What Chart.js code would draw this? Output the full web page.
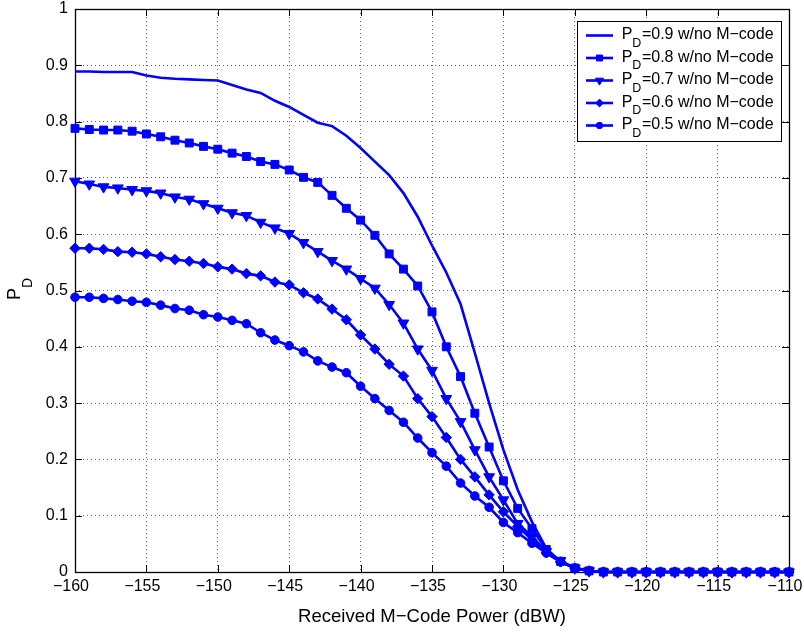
<!DOCTYPE html>
<html lang="en">
<head>
    <meta charset="UTF-8">
    <title>P_D vs Received M-Code Power</title>
    <script src="https://cdn.jsdelivr.net/npm/chart.js"></script>
    <style>
        body { margin: 0; background: #fff; }
        canvas { display: block; }
    </style>
</head>
<body>
    <canvas id="pdChart" width="804" height="632"></canvas>

    <script>
        // received M-code power, 1 dB steps
        const powerDbw = [];
        for (let p = -160; p <= -110; p++) powerDbw.push(p);

        const pd09 = [0.889, 0.889, 0.888, 0.888, 0.888, 0.882, 0.878, 0.876, 0.875, 0.874,
                      0.873, 0.865, 0.857, 0.851, 0.837, 0.826, 0.812, 0.798, 0.792, 0.775,
                      0.753, 0.729, 0.705, 0.673, 0.631, 0.580, 0.532, 0.476, 0.389, 0.300,
                      0.217, 0.146, 0.089, 0.042, 0.018, 0.007, 0.002, 0, 0, 0,
                      0, 0, 0, 0, 0, 0, 0, 0, 0, 0, 0];
        const pd08 = [0.788, 0.786, 0.785, 0.785, 0.783, 0.778, 0.773, 0.767, 0.762, 0.756,
                      0.751, 0.744, 0.738, 0.729, 0.724, 0.714, 0.701, 0.692, 0.669, 0.646,
                      0.625, 0.598, 0.565, 0.538, 0.508, 0.462, 0.400, 0.347, 0.282, 0.222,
                      0.162, 0.113, 0.077, 0.040, 0.019, 0.007, 0.002, 0, 0, 0,
                      0, 0, 0, 0, 0, 0, 0, 0, 0, 0, 0];
        const pd07 = [0.694, 0.689, 0.684, 0.682, 0.679, 0.677, 0.673, 0.666, 0.662, 0.654,
                      0.646, 0.638, 0.633, 0.621, 0.611, 0.601, 0.585, 0.569, 0.553, 0.538,
                      0.521, 0.504, 0.475, 0.442, 0.396, 0.358, 0.308, 0.267, 0.217, 0.169,
                      0.128, 0.086, 0.063, 0.036, 0.020, 0.007, 0.002, 0, 0, 0,
                      0, 0, 0, 0, 0, 0, 0, 0, 0, 0, 0];
        const pd06 = [0.575, 0.575, 0.573, 0.569, 0.568, 0.565, 0.560, 0.555, 0.552, 0.548,
                      0.542, 0.538, 0.530, 0.526, 0.515, 0.510, 0.496, 0.485, 0.467, 0.448,
                      0.421, 0.396, 0.369, 0.348, 0.308, 0.276, 0.239, 0.200, 0.169, 0.137,
                      0.107, 0.081, 0.057, 0.034, 0.018, 0.007, 0.002, 0, 0, 0,
                      0, 0, 0, 0, 0, 0, 0, 0, 0, 0, 0];
        const pd05 = [0.488, 0.488, 0.486, 0.484, 0.481, 0.479, 0.474, 0.468, 0.465, 0.457,
                      0.453, 0.447, 0.441, 0.425, 0.412, 0.402, 0.391, 0.375, 0.364, 0.354,
                      0.330, 0.308, 0.287, 0.266, 0.238, 0.212, 0.188, 0.158, 0.135, 0.115,
                      0.088, 0.070, 0.051, 0.034, 0.018, 0.007, 0.002, 0, 0, 0,
                      0, 0, 0, 0, 0, 0, 0, 0, 0, 0, 0];

        const seriesNames = ['0.9', '0.8', '0.7', '0.6', '0.5'];

        const xTicks = [-160, -155, -150, -145, -140, -135, -130, -125, -120, -115, -110];
        const xTickLabels = ['\u2212160', '\u2212155', '\u2212150', '\u2212145', '\u2212140', '\u2212135',
                             '\u2212130', '\u2212125', '\u2212120', '\u2212115', '\u2212110'];
        const yTicks = [0, 0.1, 0.2, 0.3, 0.4, 0.5, 0.6, 0.7, 0.8, 0.9, 1];
        const yTickLabels = ['0', '0.1', '0.2', '0.3', '0.4', '0.5', '0.6', '0.7', '0.8', '0.9', '1'];

        const FONT = "'Liberation Sans', Arial, Helvetica, sans-serif";
        const BLUE = '#0000ff';

        const toPoints = ys => ys.map((y, i) => ({ x: powerDbw[i], y: y }));

        function makeSet(label, ys, style, radius, rotation) {
            return {
                label: label,
                data: toPoints(ys),
                borderColor: BLUE,
                backgroundColor: BLUE,
                borderWidth: 2.6,
                tension: 0,
                pointStyle: style,
                pointRadius: style ? radius : 0,
                pointRotation: rotation || 0,
                pointBackgroundColor: BLUE,
                pointBorderColor: BLUE,
                pointBorderWidth: 1,
                clip: false
            };
        }

        const datasets = [
            makeSet(seriesNames[0], pd09, false, 0),
            makeSet(seriesNames[1], pd08, 'rect', 5.6),
            makeSet(seriesNames[2], pd07, 'triangle', 6.2, 180),
            makeSet(seriesNames[3], pd06, 'rectRot', 5.2),
            makeSet(seriesNames[4], pd05, 'circle', 4.3)
        ];

        // box with inward ticks like the matlab axes
        const axesBox = {
            id: 'axesBox',
            beforeDatasetsDraw(chart) {
                const { ctx, chartArea: a, scales } = chart;
                ctx.save();
                ctx.strokeStyle = '#000';
                ctx.lineWidth = 1;
                ctx.beginPath();
                const tl = 7;
                xTicks.forEach(v => {
                    const x = Math.round(scales.x.getPixelForValue(v)) + 0.5;
                    ctx.moveTo(x, a.bottom); ctx.lineTo(x, a.bottom - tl);
                    ctx.moveTo(x, a.top); ctx.lineTo(x, a.top + tl);
                });
                yTicks.forEach(v => {
                    const y = Math.round(scales.y.getPixelForValue(v)) + 0.5;
                    ctx.moveTo(a.left, y); ctx.lineTo(a.left + tl, y);
                    ctx.moveTo(a.right, y); ctx.lineTo(a.right - tl, y);
                });
                ctx.stroke();
                ctx.lineWidth = 1.3;
                ctx.strokeRect(Math.round(a.left) + 0.5, Math.round(a.top) + 0.5,
                               Math.round(a.right - a.left), Math.round(a.bottom - a.top));
                ctx.restore();
            },
            afterDraw(chart) {
                const ctx = chart.ctx;
                ctx.save();
                ctx.fillStyle = '#000';

                // y axis title P_D, rotated
                ctx.translate(20, 300);
                ctx.rotate(-Math.PI / 2);
                ctx.textAlign = 'left';
                ctx.textBaseline = 'alphabetic';
                ctx.font = '18px ' + FONT;
                ctx.fillText('P', 0, 0);
                const pw = ctx.measureText('P').width;
                ctx.font = '14px ' + FONT;
                ctx.fillText('D', pw, 12);
                ctx.setTransform(1, 0, 0, 1, 0, 0);

                // legend
                const bx = 577.5, by = 21.5, bw = 204, bh = 120;
                ctx.fillStyle = '#fff';
                ctx.fillRect(bx, by, bw, bh);
                ctx.strokeStyle = '#000';
                ctx.lineWidth = 1;
                ctx.strokeRect(bx, by, bw, bh);

                chart.data.datasets.forEach((ds, i) => {
                    const base = 39 + i * 22.5;
                    const ly = base - 3.5;
                    ctx.strokeStyle = BLUE;
                    ctx.lineWidth = 2.6;
                    ctx.beginPath();
                    ctx.moveTo(586, ly);
                    ctx.lineTo(613, ly);
                    ctx.stroke();
                    if (ds.pointStyle && Chart.helpers && Chart.helpers.drawPoint) {
                        ctx.fillStyle = BLUE;
                        ctx.lineWidth = 1;
                        Chart.helpers.drawPoint(ctx, {
                            pointStyle: ds.pointStyle,
                            radius: ds.pointRadius * 0.75,
                            rotation: ds.pointRotation,
                            borderWidth: 1
                        }, 599.5, ly);
                    }
                    ctx.fillStyle = '#000';
                    ctx.font = '16px ' + FONT;
                    ctx.fillText('P', 621.7, base);
                    const w1 = ctx.measureText('P').width;
                    ctx.font = '12.5px ' + FONT;
                    ctx.fillText('D', 621.7 + w1, base + 7.7);
                    const w2 = ctx.measureText('D').width;
                    ctx.font = '16px ' + FONT;
                    ctx.fillText('=' + ds.label + ' w/no M\u2212code', 621.7 + w1 + w2 + 0.5, base);
                });
                ctx.restore();
            }
        };

        const ctx = document.getElementById('pdChart').getContext('2d');
        const chart = new Chart(ctx, {
            type: 'line',
            data: { datasets: datasets },
            plugins: [axesBox],
            options: {
                responsive: false,
                animation: false,
                devicePixelRatio: 1,
                layout: { padding: { top: 9, right: 15, left: 0, bottom: 0 } },
                plugins: {
                    legend: { display: false },
                    tooltip: { enabled: false }
                },
                scales: {
                    x: {
                        type: 'linear',
                        min: -160,
                        max: -110,
                        afterBuildTicks: s => { s.ticks = xTicks.map(v => ({ value: v })); },
                        afterFit: s => { s.height = 60; s.paddingLeft = 0; s.paddingRight = 0; },
                        ticks: {
                            autoSkip: false,
                            maxRotation: 0,
                            padding: 5,
                            labelOffset: -4,
                            color: '#000',
                            font: { size: 16, family: FONT },
                            callback: (v, i) => xTickLabels[i]
                        },
                        grid: { color: 'rgba(0,0,0,0.6)', lineWidth: 1, drawTicks: false },
                        border: { display: false, dash: [1, 3] },
                        title: {
                            display: true,
                            text: 'Received M\u2212Code Power (dBW)',
                            color: '#000',
                            font: { size: 18.5, family: FONT },
                            padding: { top: 0, bottom: 4 }
                        }
                    },
                    y: {
                        min: 0,
                        max: 1,
                        afterBuildTicks: s => { s.ticks = yTicks.map(v => ({ value: v })); },
                        afterFit: s => { s.width = 75; s.paddingTop = 0; s.paddingBottom = 0; },
                        ticks: {
                            padding: 7,
                            color: '#000',
                            font: { size: 16, family: FONT },
                            callback: (v, i) => yTickLabels[i]
                        },
                        grid: { color: 'rgba(0,0,0,0.6)', lineWidth: 1, drawTicks: false },
                        border: { display: false, dash: [1, 3] }
                    }
                }
            }
        });
    </script>
</body>
</html>
